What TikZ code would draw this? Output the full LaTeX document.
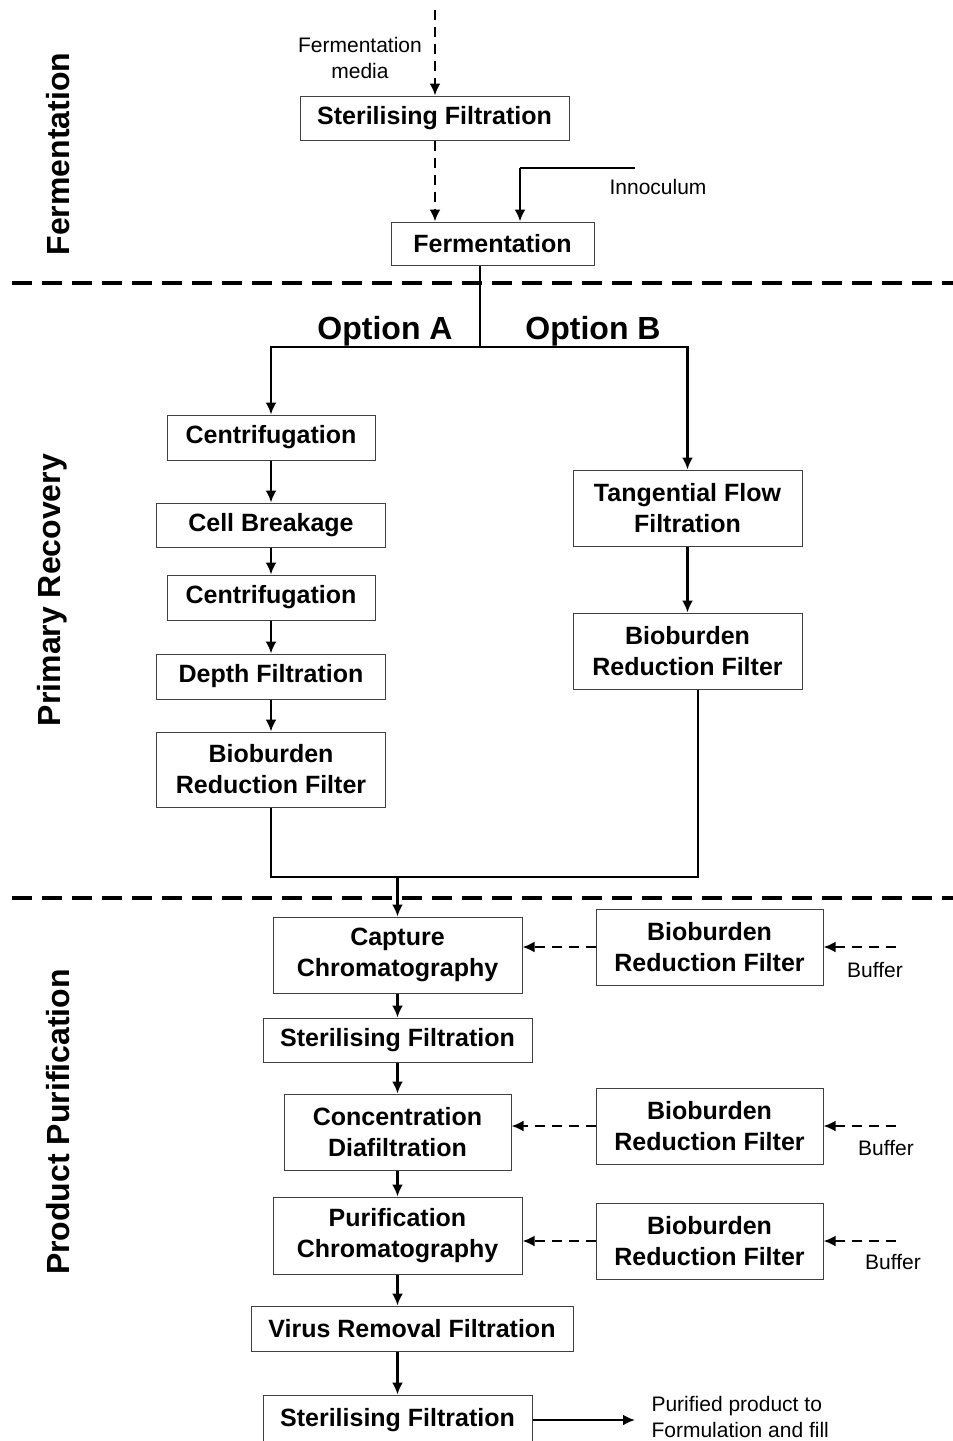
\documentclass[tikz,border=0pt]{standalone}
\usepackage{fontspec}
\setmainfont{Liberation Sans}
\usetikzlibrary{arrows.meta}

\begin{document}
\begin{tikzpicture}[x=1pt, y=-1pt, >={Latex[length=12pt,width=11pt]},
    box/.style={draw=black!75, line width=1pt, fill=white, align=center, inner sep=0pt,
      font=\bfseries\fontsize{25}{31}\selectfont},
    sz/.style 2 args={minimum width=#1pt, minimum height=#2pt},
    lab/.style={align=center, font=\fontsize{21}{26}\selectfont},
    opt/.style={font=\bfseries\fontsize{32}{36}\selectfont},
    sect/.style={rotate=90, font=\bfseries\fontsize{32}{36}\selectfont},
    flow/.style={->, line width=2.6pt},
    feed/.style={->, line width=2.6pt, dash pattern=on 10pt off 7pt},
    link/.style={line width=2pt},
    sep/.style={line width=3.2pt, dash pattern=on 20pt off 10pt}]
    \useasboundingbox (0,0) rectangle (953,1441);
    % Sections
    \node[sect] (secferm) at (58,154) {Fermentation};
    \node[sect] (secrec) at (52,590) {Primary Recovery};
    \node[sect] (secpur) at (58,1122) {Product Purification};
    \draw[sep] (12,283) -- (953,283);
    \draw[sep] (12,898) -- (953,898);
    % Fermentation
    \node[box, sz={269}{44}] (SFmedia) at (434.5,118) {Sterilising Filtration};
    \node[box, sz={203}{43}] (Ferm) at (492.5,243.5) {Fermentation};
    \node[lab] (mediatxt) at (360,58) {Fermentation\\media};
    \node[lab] (inoctxt) at (658,187) {Innoculum};
    \coordinate (media) at (435,10);
    \coordinate (inoc) at (635,168);
    \coordinate (inocbend) at (520,168);
    % Primary recovery
    \node[opt] (optA) at (385,331) {Option A};
    \node[opt] (optB) at (593,331) {Option B};
    \coordinate (split) at (480,347);
    \node[box, sz={208}{45}] (CentA) at (271,437.5) {Centrifugation};
    \node[box, sz={229}{44}] (Cell) at (271,525) {Cell Breakage};
    \node[box, sz={208}{45}] (CentB) at (271,597.5) {Centrifugation};
    \node[box, sz={229}{45}] (Depth) at (271,676.5) {Depth Filtration};
    \node[box, sz={229}{75}] (BioA) at (271,769.5) {Bioburden\\Reduction Filter};
    \node[box, sz={229}{76}] (TFF) at (687.5,508) {Tangential Flow\\Filtration};
    \node[box, sz={229}{76}] (BioB) at (687.5,651) {Bioburden\\Reduction Filter};
    \coordinate (joinA) at (271,877);
    \coordinate (joinB) at (698,877);
    % Product purification
    \node[box, sz={249}{76}] (Capt) at (397.5,955) {Capture\\Chromatography};
    \node[box, sz={269}{44}] (SFcapt) at (397.5,1040) {Sterilising Filtration};
    \node[box, sz={227}{76}] (Conc) at (397.5,1132) {Concentration\\Diafiltration};
    \node[box, sz={249}{77}] (Purif) at (397.5,1235.5) {Purification\\Chromatography};
    \node[box, sz={322}{45}] (Virus) at (412,1328.5) {Virus Removal Filtration};
    \node[box, sz={269}{50}] (SFfinal) at (397.5,1420) {Sterilising Filtration};
    \node[box, sz={227}{76}] (BufA) at (709.5,947) {Bioburden\\Reduction Filter};
    \node[box, sz={227}{76}] (BufB) at (709.5,1126) {Bioburden\\Reduction Filter};
    \node[box, sz={227}{76}] (BufC) at (709.5,1241) {Bioburden\\Reduction Filter};
    \node[lab] (buftxtA) at (875,970) {Buffer};
    \node[lab] (buftxtB) at (886,1148) {Buffer};
    \node[lab] (buftxtC) at (893,1262) {Buffer};
    \coordinate (bufinA) at (896,947);
    \coordinate (bufinB) at (896,1126);
    \coordinate (bufinC) at (896,1241);
    \coordinate (product) at (635,1420);
    \node[lab, align=left, anchor=west] (prodtxt) at (648,1417) {Purified product to\\Formulation and fill};
    % Arrows
    \draw[feed] (media) -- (media |- SFmedia.north);
    \draw[feed] (SFmedia.south -| media) -- (Ferm.north -| media);
    \draw[line width=1.5pt] (inoc) -- (inocbend);
    \draw[flow] (inocbend) -- (inocbend |- Ferm.north);
    \draw[link] (Ferm.south -| split) -- (split);
    \draw[flow] (split) -| (CentA.north);
    \draw[flow] (split) -| (TFF.north);
    \draw[flow] (CentA) -- (Cell);
    \draw[flow] (Cell) -- (CentB);
    \draw[flow] (CentB) -- (Depth);
    \draw[flow] (Depth) -- (BioA);
    \draw[flow] (TFF) -- (BioB);
    \draw[link] (BioA.south) -- (joinA) -- (joinB) -- (joinB |- BioB.south);
    \draw[flow] (Capt.north |- joinA) -- (Capt.north);
    \draw[flow] (Capt) -- (SFcapt);
    \draw[flow] (SFcapt) -- (Conc);
    \draw[flow] (Conc) -- (Purif);
    \draw[flow] (Purif.south) -- (Purif.south |- Virus.north);
    \draw[flow] (Virus.south -| SFfinal.north) -- (SFfinal.north);
    \draw[flow] (SFfinal.east) -- (product);
    \draw[feed] (BufA.west) -- (BufA.west -| Capt.east);
    \draw[feed] (BufB.west) -- (BufB.west -| Conc.east);
    \draw[feed] (BufC.west) -- (BufC.west -| Purif.east);
    \draw[feed] (bufinA) -- (BufA.east);
    \draw[feed] (bufinB) -- (BufB.east);
    \draw[feed] (bufinC) -- (BufC.east);
\end{tikzpicture}
\end{document}
